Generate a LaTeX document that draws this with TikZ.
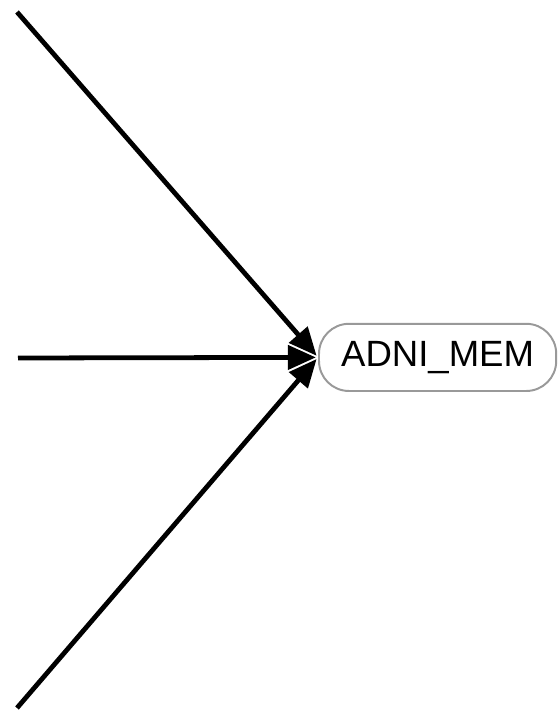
\documentclass[tikz,border=0pt]{standalone}
\usepackage{fontspec}
\setmainfont{Liberation Sans}
\usepackage{xcolor}
\usetikzlibrary{arrows.meta}
\definecolor{VarEdge}{HTML}{999999}

\tikzset{
  varbox/.style={draw=VarEdge,line width=1.4pt,rounded corners=0.75cm,minimum width=5.93cm,minimum height=1.68cm,inner sep=0pt,font=\fontsize{26}{30}\selectfont},
  path/.style={line width=3.4pt,-{Triangle[length=20pt,width=17pt]},shorten >=1.5pt}
}

\begin{document}
\begin{tikzpicture}[x=1cm,y=1cm]
\path[use as bounding box] (0,0) rectangle (13.975,18.025);
\node[varbox] (mem) at (10.94,9.09) {ADNI\_MEM};
\coordinate (srcA) at (0.425,17.725);
\coordinate (srcB) at (0.45,9.075);
\coordinate (srcC) at (0.425,0.325);
\draw[path] (srcA) -- (mem.west);
\draw[path] (srcB) -- (mem.west);
\draw[path] (srcC) -- (mem.west);
\end{tikzpicture}
\end{document}
